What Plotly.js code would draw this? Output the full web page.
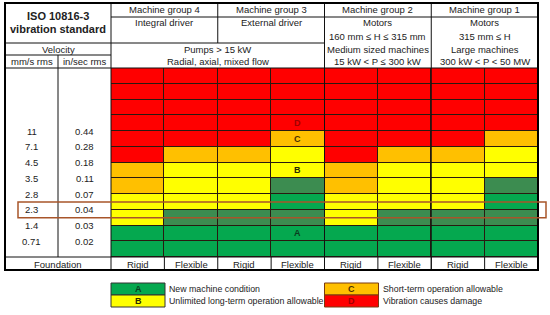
<!DOCTYPE html>
<html><head><meta charset="utf-8">
<script src="https://cdn.plot.ly/plotly-3.0.1.min.js"></script>
<style>html,body{margin:0;padding:0;background:#fff}#chart{width:550px;height:315px}</style>
</head><body><div id="chart"></div>
<script>
// ---------- data ----------
const groupNames = ["Machine group 4", "Machine group 3", "Machine group 2", "Machine group 1"];
const groupLine2 = ["Integral driver", "External driver", "Motors", "Motors"];
const groupLine3 = ["", "", "160 mm ≤ H ≤ 315 mm", "315 mm ≤ H"];
const classLine1 = ["Pumps > 15 kW", "Medium sized machines", "Large machines"];
const classLine2 = ["Radial, axial, mixed flow", "15 kW < P ≤ 300 kW", "300 kW < P < 50 MW"];
const foundations = ["Rigid", "Flexible", "Rigid", "Flexible", "Rigid", "Flexible", "Rigid", "Flexible"];
const mmsTicks = ["11", "7.1", "4.5", "3.5", "2.8", "2.3", "1.4", "0.71"];
const inTicks = ["0.44", "0.28", "0.18", "0.11", "0.07", "0.04", "0.03", "0.02"];
// zone per row (12 rows, top to bottom); 'a' = shaded A band
const zoneG4Rigid    = ["D","D","D","D","D","D","C","C","B","B","A","A"];
const zoneG4Flexible = ["D","D","D","D","D","C","B","B","B","a","A","A"];
const zoneG3Rigid    = ["D","D","D","D","D","C","B","B","B","a","A","A"];
const zoneG3Flexible = ["D","D","D","D","C","B","B","a","A","a","A","A"];
const zoneG2Rigid    = ["D","D","D","D","D","D","C","C","B","B","A","A"];
const zoneG2Flexible = ["D","D","D","D","D","C","B","B","B","a","A","A"];
const zoneG1Rigid    = ["D","D","D","D","D","C","B","B","B","a","A","A"];
const zoneG1Flexible = ["D","D","D","D","C","B","B","a","A","a","A","A"];
const zoneLetters = ["D", "C", "B", "A"];
const zoneLetterRows = [3, 4, 6, 10];
const legendLetters = ["A", "B", "C", "D"];
const legendTexts = ["New machine condition", "Unlimited long-term operation allowable",
                     "Short-term operation allowable", "Vibration causes damage"];

// ---------- styles ----------
const zoneValue = {A: 0, a: 1, B: 2, C: 3, D: 4};
const GREEN = "#05a84f", GREEN2 = "#3c8c50", YELLOW = "#ffff00", ORANGE = "#ffc000", RED = "#ff0000";
const colorscale = [[0, GREEN], [0.125, GREEN], [0.125, GREEN2], [0.375, GREEN2], [0.375, YELLOW],
                    [0.625, YELLOW], [0.625, ORANGE], [0.875, ORANGE], [0.875, RED], [1, RED]];
const FONT = "Liberation Sans, Arial, sans-serif";
const TXT = "#222";

const columns = [zoneG4Rigid, zoneG4Flexible, zoneG3Rigid, zoneG3Flexible,
                 zoneG2Rigid, zoneG2Flexible, zoneG1Rigid, zoneG1Flexible];
const nRows = zoneG4Rigid.length;
const z = [];
for (let r = 0; r < nRows; r++) z.push(columns.map(c => zoneValue[c[r]]));
const xs = columns.map((_, i) => i);
const ys = z.map((_, i) => i);

// pixel frame of the plot area
const L = 111, R = 538, T = 68, B = 257;
const px = x => (x - L) / (R - L);
const py = y => (B - y) / (B - T);

const shapes = [];
function line(x0, y0, x1, y1, w, col) {
  shapes.push({type: "line", xref: "paper", yref: "paper", x0: px(x0), y0: py(y0), x1: px(x1), y1: py(y1),
               line: {color: col || "#111", width: w || 1}});
}
const annotations = [];
function txt(text, x, y, o) {
  o = o || {};
  annotations.push({text: text, showarrow: false,
    xref: o.xref || "paper", yref: o.yref || "paper",
    x: o.xref === "x" ? x : px(x), y: o.yref === "y" ? y : py(y),
    xanchor: o.xanchor || "center", yanchor: "middle",
    font: {family: FONT, size: o.size || 9.5, color: o.color || TXT, weight: o.bold ? "bold" : "normal"}});
}

// table lines
line(111, 17, 538, 17);
line(5, 43, 325, 43);
line(5, 55, 111, 55);
line(5, 68, 538, 68);
line(5, 257, 538, 257);
line(111, 3, 111, 270);
line(217.75, 3, 217.75, 43);
line(324.5, 3, 324.5, 270);
line(431.25, 3, 431.25, 270);
line(58, 55, 58, 257);
for (let k = 1; k < 8; k++) { const xx = L + (R - L) * k / 8; line(xx, 257, xx, 270); }
shapes.push({type: "rect", xref: "paper", yref: "paper", x0: px(5), x1: px(538), y0: py(3), y1: py(270),
             line: {color: "#000", width: 2}});
// highlighted 2.3 row
shapes.push({type: "rect", xref: "paper", yref: "y", x0: px(18), x1: px(546), y0: 8, y1: 9,
             line: {color: "#a8552a", width: 1.5}});

// header text
txt("ISO 10816-3", 58, 16, {bold: true, size: 11});
txt("vibration standard", 58, 29, {bold: true, size: 11});
txt("Velocity", 58, 49);
txt("mm/s rms", 31.5, 62);
txt("in/sec rms", 84.5, 62);
groupNames.forEach((g, i) => txt(g, 2 * i + 0.5, 10, {xref: "x"}));
groupLine2.forEach((g, i) => txt(g, 2 * i + 0.5, 23, {xref: "x"}));
groupLine3.forEach((g, i) => { if (g) txt(g, 2 * i + 0.5, 36, {xref: "x"}); });
classLine1.forEach((g, i) => txt(g, i === 0 ? 1.5 : 2 * i + 2.5, 49, {xref: "x"}));
classLine2.forEach((g, i) => txt(g, i === 0 ? 1.5 : 2 * i + 2.5, 62, {xref: "x"}));
// velocity labels at zone boundaries
mmsTicks.forEach((t, i) => txt(t, 31.5, 3.5 + i, {yref: "y"}));
inTicks.forEach((t, i) => txt(t, 84.5, 3.5 + i, {yref: "y"}));
// foundation row
txt("Foundation", 58, 264);
foundations.forEach((f, i) => txt(f, i, 264, {xref: "x"}));
// zone letters
const letterColor = {A: "#0b3d1f", B: "#2a2a00", C: "#4a3000", D: "#a00000"};
zoneLetters.forEach((l, i) => txt(l, 3, zoneLetterRows[i], {xref: "x", yref: "y", bold: true, size: 9, color: letterColor[l]}));

// legend
const swFill = {A: GREEN, B: YELLOW, C: ORANGE, D: RED};
const swX = [111, 111, 324.5, 324.5], swY = [283, 295, 283, 295];
legendLetters.forEach((l, i) => {
  shapes.push({type: "rect", xref: "paper", yref: "paper", x0: px(swX[i]), x1: px(swX[i] + 54),
               y0: py(swY[i]), y1: py(swY[i] + 12), fillcolor: swFill[l],
               line: {color: i < 2 ? "#333" : "#7a3a10", width: 1}});
  txt(l, swX[i] + 27, swY[i] + 6, {bold: true, size: 9, color: letterColor[l]});
  txt(legendTexts[i], swX[i] + 56, swY[i] + 6, {xanchor: "left", size: 8.8});
});

const trace = {type: "heatmap", x: xs, y: ys, z: z, zmin: 0, zmax: 4, colorscale: colorscale,
               showscale: false, xgap: 1, ygap: 1, hoverinfo: "skip"};

const layout = {
  width: 550, height: 315,
  margin: {l: L, r: 550 - R, t: T, b: 315 - B, pad: 0},
  paper_bgcolor: "#ffffff", plot_bgcolor: "#2a1a10",
  xaxis: {range: [-0.5, 7.5], visible: false, fixedrange: true},
  yaxis: {range: [nRows - 0.5, -0.5], visible: false, fixedrange: true},
  showlegend: false, shapes: shapes, annotations: annotations
};
Plotly.newPlot("chart", [trace], layout, {displayModeBar: false, staticPlot: true});
</script>
</body></html>
